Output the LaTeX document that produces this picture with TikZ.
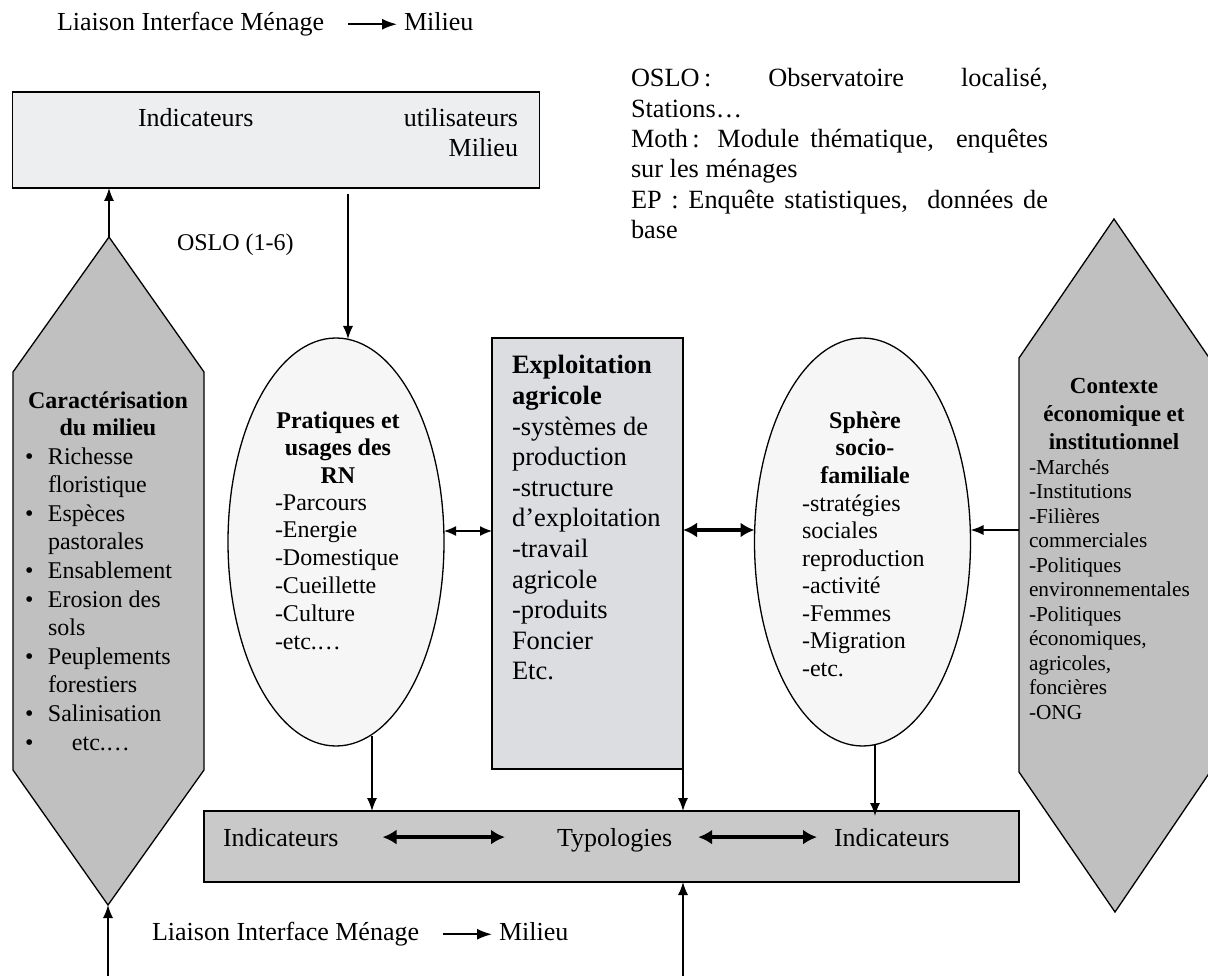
\documentclass[tikz,border=0pt]{standalone}
\usepackage{fontspec}
\setmainfont{Liberation Serif}
\usetikzlibrary{shapes.geometric,arrows.meta}
\definecolor{topfill}{HTML}{EDEEF0}
\definecolor{hexfill}{HTML}{C0C0C0}
\definecolor{ellfill}{HTML}{F6F6F6}
\definecolor{expfill}{HTML}{DCDDE0}
\definecolor{botfill}{HTML}{C9C9C9}
\newcommand{\fsBig}{\fontsize{26}{30}\selectfont}
\newcommand{\fsMid}{\fontsize{24}{27.5}\selectfont}
\newcommand{\fsLeg}{\fontsize{26.3}{30.4}\selectfont}
\newcommand{\fsSmall}{\fontsize{21.3}{24.5}\selectfont}
\begin{document}
\begin{tikzpicture}[x=1pt,y=-1pt,
  arr/.style={-{Latex[length=13pt,width=10pt]},line width=1.4pt},
  larr/.style={-{Latex[length=15pt,width=11pt]},line width=1.8pt},
  dbl/.style={{Latex[length=12pt,width=10pt]}-{Latex[length=12pt,width=10pt]},line width=1.4pt},
  bigdbl/.style={{Latex[length=14pt,width=15pt]}-{Latex[length=14pt,width=15pt]},line width=4.5pt},
  txt/.style={inner sep=0pt,outer sep=0pt},
  boxst/.style={draw=black,line width=1.5pt,inner sep=0pt,outer sep=0pt,anchor=north west},
  ellst/.style={ellipse,draw=black,fill=ellfill,line width=1.3pt,inner sep=0pt,outer sep=0pt,minimum width=216pt,minimum height=408pt},
  hexst/.style={fill=hexfill,draw=black,line width=1.3pt,line join=miter}]
\useasboundingbox (0,0) rectangle (1208,976);

% ---- hexagons
\coordinate (lhtop) at (109,237);
\coordinate (lhbot) at (108,905);
\filldraw[hexst] (lhtop) -- (204,372) -- (204,770) -- (lhbot) -- (13,770) -- (13,372) -- cycle;
\coordinate (rhtop) at (1114,219);
\coordinate (rhbot) at (1115,912);
\filldraw[hexst] (rhtop) -- (1210,359) -- (1210,772) -- (rhbot) -- (1019,772) -- (1019,358) -- cycle;
\coordinate (rhleft) at (1019,530);

% ---- boxes
\node[boxst,fill=topfill,minimum width=527pt,minimum height=96pt] (topbox) at (12.7,92) {};
\node[boxst,fill=expfill,minimum width=191pt,minimum height=431pt] (expl) at (492,338) {};
\node[boxst,fill=botfill,minimum width=815pt,minimum height=71pt] (bot) at (204,811) {};
\node[ellst] (ell1) at (336,542) {};
\node[ellst] (ell2) at (862.5,542) {};

% ---- top line
\node[txt,anchor=base west,font=\fsBig] (lt) at (57,30.6) {Liaison Interface Ménage};
\node[txt,anchor=base west,font=\fsBig] (lm) at (404,30.6) {Milieu};
\draw[larr,shorten <=24pt,shorten >=7pt] (lt.east) -- (lt.east -| lm.west);

% ---- top box texts
\node[txt,anchor=base west,font=\fsBig] (tb1) at (138,126.6) {Indicateurs};
\node[txt,anchor=base east,font=\fsBig] (tb2) at (518,126.6) {utilisateurs};
\node[txt,anchor=base east,font=\fsBig] (tb3) at (518,156.6) {Milieu};

\node[txt,anchor=base west,font=\fsMid] (oslo) at (177,251) {OSLO (1-6)};

% ---- legend
\node[txt,anchor=north west,font=\fsLeg,align=left] (leg) at (631,68.5) {%
\hbox to 417pt{OSLO\,:\hfill Observatoire\hfill localisé,}\\
Stations…\\
\makebox[417pt][s]{Moth\,: Module thématique,\ \ enquêtes}\\
sur les ménages\\
\makebox[417pt][s]{EP : Enquête statistiques,\ \ données de}\\
base};

% ---- left hexagon text
\node[txt,anchor=north,font=\fsMid\bfseries,align=center] (lht) at (108,391.4)
  {Caractérisation\\du milieu};
\node[txt,anchor=north west,font=\fontsize{24}{28.6}\selectfont,align=left] (lhl) at (25,447.4) {%
\makebox[23pt][l]{•}Richesse\\
\hspace*{23pt}floristique\\
\makebox[23pt][l]{•}Espèces\\
\hspace*{23pt}pastorales\\
\makebox[23pt][l]{•}Ensablement\\
\makebox[23pt][l]{•}Erosion des\\
\hspace*{23pt}sols\\
\makebox[23pt][l]{•}Peuplements\\
\hspace*{23pt}forestiers\\
\makebox[23pt][l]{•}Salinisation\\
\makebox[23pt][l]{•}\hspace*{24pt}etc.…};

% ---- ellipse 1 text
\node[txt,anchor=north,font=\fsMid\bfseries,align=center] (e1t) at (338,411.4)
  {Pratiques et\\usages des\\RN};
\node[txt,anchor=north west,font=\fontsize{24}{27.8}\selectfont,align=left] (e1l) at (275,494.4)
  {-Parcours\\-Energie\\-Domestique\\-Cueillette\\-Culture\\-etc.…};

% ---- exploitation text
\node[txt,anchor=north west,font=\fontsize{26.5}{30.6}\selectfont,align=left] (exl) at (512,355.5)
  {\textbf{Exploitation}\\\textbf{agricole}\\-systèmes de\\production\\-structure\\d’exploitation\\-travail\\agricole\\-produits\\Foncier\\Etc.};

% ---- ellipse 2 text
\node[txt,anchor=north,font=\fsMid\bfseries,align=center] (e2t) at (865,411.4)
  {Sphère\\socio-\\familiale};
\node[txt,anchor=north west,font=\fontsize{24}{27.5}\selectfont,align=left] (e2l) at (802,494.4)
  {-stratégies\\sociales\\reproduction\\-activité\\-Femmes\\-Migration\\-etc.};

% ---- right hexagon text
\node[txt,anchor=north,font=\fontsize{23}{28}\selectfont\bfseries,align=center] (rht) at (1114,378.7)
  {Contexte\\économique et\\institutionnel};
\node[txt,anchor=north west,font=\fsSmall,align=left] (rhl) at (1029,459.3)
  {-Marchés\\-Institutions\\-Filières\\commerciales\\-Politiques\\environnementales\\-Politiques\\économiques,\\agricoles,\\foncières\\-ONG};

% ---- bottom box texts
\node[txt,anchor=base west,font=\fsBig] (ib1) at (223,846) {Indicateurs};
\node[txt,anchor=base west,font=\fsBig] (ib2) at (557,846) {Typologies};
\node[txt,anchor=base west,font=\fsBig] (ib3) at (834,846) {Indicateurs};
\draw[bigdbl,shorten <=44pt,shorten >=52pt] (ib1.east) -- (ib1.east -| ib2.west);
\draw[bigdbl,shorten <=26pt,shorten >=17pt] (ib3.west -| ib2.east) -- (ib3.west);

% ---- bottom line
\node[txt,anchor=base west,font=\fsBig] (blt) at (152,940.6) {Liaison Interface Ménage};
\node[txt,anchor=base west,font=\fsBig] (blm) at (499,940.6) {Milieu};
\draw[larr,shorten <=24pt,shorten >=7pt] (blt.east) -- (blt.east -| blm.west);

% ---- connectors
\draw[arr] (lhtop) -- (lhtop |- topbox.south);
\coordinate (c1) at (348,194);
\draw[arr] (c1) -- (348,339);
\coordinate (yA) at (0,531);
\draw[dbl] (ell1.east |- yA) -- (expl.west |- yA);
\coordinate (yB) at (0,530);
\draw[bigdbl] (expl.east |- yB) -- (ell2.west |- yB);
\draw[arr] (rhleft) -- (ell2.east |- rhleft);
\coordinate (d1) at (372,736);
\draw[arr] (d1) -- (d1 |- bot.north);
\draw[arr] (expl.south east) -- (expl.south east |- bot.north);
\coordinate (d3) at (875,745);
\draw[arr] (d3) -- (875,816);
\coordinate (u1) at (108,976);
\draw[arr] (u1) -- (lhbot);
\coordinate (u2) at (683,976);
\draw[arr] (u2) -- (u2 |- bot.south);
\end{tikzpicture}
\end{document}
